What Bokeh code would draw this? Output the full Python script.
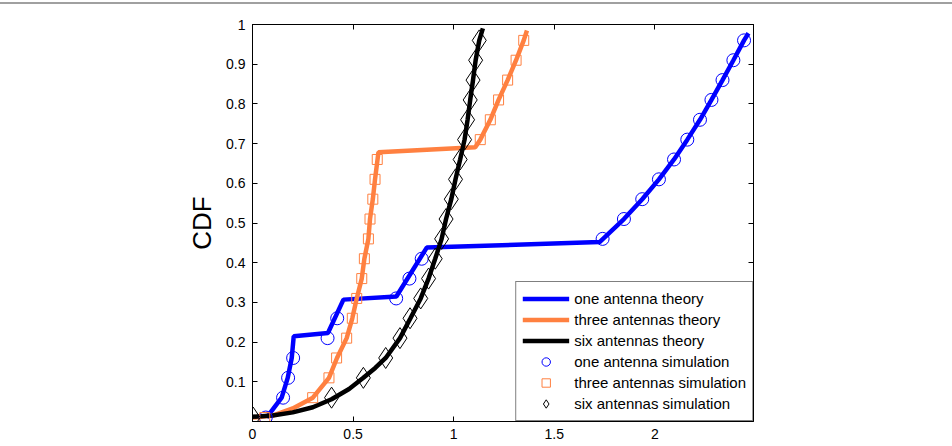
from bokeh.plotting import figure
from bokeh.models import (Range1d, FixedTicker, LinearAxis, Legend, LegendItem,
                          CustomJSTickFormatter, Div)
from bokeh.layouts import column
from bokeh.embed import file_html
from bokeh.resources import INLINE

# CDF levels at which the simulated quantiles are reported
sim_cdf = [0.01, 0.06, 0.11, 0.16, 0.21, 0.26, 0.31, 0.36, 0.41, 0.46,
           0.51, 0.56, 0.61, 0.66, 0.71, 0.76, 0.81, 0.86, 0.91, 0.96]

# theory curves
one_theory_x = [0.07, 0.145, 0.175, 0.195, 0.205, 0.375, 0.452, 0.715, 0.866,
                1.725, 1.846, 1.937, 2.02, 2.095, 2.161, 2.224, 2.281, 2.336,
                2.39, 2.443, 2.465]
one_theory_y = [0.01, 0.06, 0.11, 0.16, 0.215, 0.223, 0.307, 0.315, 0.438,
                0.452, 0.51, 0.56, 0.61, 0.66, 0.71, 0.76, 0.81, 0.86,
                0.91, 0.96, 0.978]

three_theory_x = [0.0, 0.1, 0.2, 0.3, 0.38, 0.42, 0.468, 0.496, 0.518, 0.543,
                  0.556, 0.576, 0.584, 0.598, 0.609, 0.626, 1.107, 1.132,
                  1.182, 1.223, 1.268, 1.31, 1.348, 1.364]
three_theory_y = [0.01, 0.015, 0.033, 0.06, 0.11, 0.16, 0.21, 0.26, 0.31, 0.36,
                  0.41, 0.46, 0.51, 0.56, 0.61, 0.678, 0.691, 0.71,
                  0.76, 0.81, 0.86, 0.91, 0.96, 0.985]

six_theory_x = [0.0, 0.1, 0.2, 0.3, 0.393, 0.48, 0.551, 0.61, 0.662, 0.733, 0.785,
                0.836, 0.875, 0.908, 0.94, 0.962, 0.988, 1.009, 1.032, 1.054,
                1.069, 1.082, 1.096, 1.109, 1.127, 1.145]
six_theory_y = [0.012, 0.015, 0.023, 0.036, 0.056, 0.082, 0.11, 0.135, 0.16, 0.21,
                0.26, 0.31, 0.36, 0.41, 0.46, 0.51, 0.56, 0.61, 0.66, 0.71,
                0.76, 0.81, 0.86, 0.91, 0.96, 0.99]

# simulated quantiles
one_sim_x = [0.066, 0.152, 0.177, 0.202, 0.373, 0.421, 0.714, 0.78, 0.841, 1.74,
             1.846, 1.937, 2.02, 2.095, 2.161, 2.224, 2.281, 2.336, 2.39, 2.443]
three_sim_x = [0.061, 0.299, 0.38, 0.418, 0.468, 0.496, 0.518, 0.543, 0.556, 0.576,
               0.584, 0.598, 0.609, 0.62, 1.132, 1.182, 1.223, 1.268, 1.31, 1.348]
six_sim_x = [0.003, 0.393, 0.551, 0.662, 0.733, 0.783, 0.836, 0.875, 0.908, 0.94,
             0.962, 0.988, 1.009, 1.032, 1.054, 1.069, 1.082, 1.096, 1.109, 1.127]

x_ticks = [0, 0.5, 1, 1.5, 2]
y_ticks = [0.1, 0.2, 0.3, 0.4, 0.5, 0.6, 0.7, 0.8, 0.9, 1]

BLUE = "#0000ff"
ORANGE = "#ff8040"
BLACK = "#000000"
FONT = "Liberation Sans"

p = figure(width=952, height=442, output_backend="svg", toolbar_location=None,
           x_range=Range1d(0, 2.49), y_range=Range1d(0, 1),
           min_border_left=252, min_border_right=199,
           min_border_top=20, min_border_bottom=25)
p.xgrid.visible = False
p.ygrid.visible = False
p.outline_line_color = "black"
p.outline_line_width = 1
p.background_fill_color = "white"
p.border_fill_color = "white"

num_fmt = CustomJSTickFormatter(code="return (Math.round(tick*10)/10).toString()")
blank_fmt = CustomJSTickFormatter(code="return ''")

for ax, ticks in ((p.xaxis[0], x_ticks), (p.yaxis[0], y_ticks)):
    ax.ticker = FixedTicker(ticks=ticks)
    ax.formatter = num_fmt
    ax.major_tick_in = 5
    ax.major_tick_out = 0
    ax.minor_tick_line_color = None
    ax.axis_line_color = "black"
    ax.major_tick_line_color = "black"
    ax.major_label_text_font = FONT
    ax.major_label_text_font_size = "14px"
    ax.major_label_text_color = "black"

p.xaxis[0].major_label_standoff = 7
p.yaxis[0].major_label_standoff = 7
p.yaxis[0].axis_label = "CDF"
p.yaxis[0].axis_label_text_font = FONT
p.yaxis[0].axis_label_text_font_size = "26px"
p.yaxis[0].axis_label_text_font_style = "normal"
p.yaxis[0].axis_label_text_color = "black"
p.yaxis[0].axis_label_standoff = 6

# mirrored inward ticks on the top and right edges
for ticks, side in ((x_ticks, "above"), (y_ticks, "right")):
    ax = LinearAxis(ticker=FixedTicker(ticks=ticks), formatter=blank_fmt,
                    major_tick_in=5, major_tick_out=0,
                    minor_tick_line_color=None, axis_line_color="black",
                    major_label_text_font_size="1px", major_label_standoff=0)
    p.add_layout(ax, side)

r1 = p.line(one_theory_x, one_theory_y, line_color=BLUE, line_width=4.5)
r2 = p.line(three_theory_x, three_theory_y, line_color=ORANGE, line_width=4.5)
r3 = p.line(six_theory_x, six_theory_y, line_color=BLACK, line_width=4.5)

r4 = p.scatter(one_sim_x, sim_cdf, marker="circle", size=13,
               line_color=BLUE, line_width=1, fill_color=None)
r5 = p.scatter(three_sim_x, sim_cdf, marker="square", size=10,
               line_color=ORANGE, line_width=1, fill_color=None)
r6 = p.scatter(six_sim_x, sim_cdf, marker="diamond", size=21,
               line_color=BLACK, line_width=1, fill_color=None)

legend = Legend(items=[
    LegendItem(label="one antenna theory", renderers=[r1]),
    LegendItem(label="three antennas theory", renderers=[r2]),
    LegendItem(label="six antennas theory", renderers=[r3]),
    LegendItem(label="one antenna simulation", renderers=[r4]),
    LegendItem(label="three antennas simulation", renderers=[r5]),
    LegendItem(label="six antennas simulation", renderers=[r6]),
], location="bottom_right")
legend.margin = 0
legend.padding = 6
legend.spacing = 0
legend.glyph_width = 47
legend.glyph_height = 21
legend.label_height = 21
legend.label_standoff = 5
legend.label_text_font = FONT
legend.label_text_font_size = "15px"
legend.label_text_color = "black"
legend.border_line_color = "black"
legend.border_line_width = 1
legend.background_fill_color = "white"
legend.background_fill_alpha = 1
p.add_layout(legend, "center")

rule = Div(width=952, height=2, margin=(2, 0, 0, 0),
           styles={"background-color": "#a0a0a0"})

layout = column(rule, p, spacing=0)
open("out.html", "w").write(file_html(layout, INLINE))
